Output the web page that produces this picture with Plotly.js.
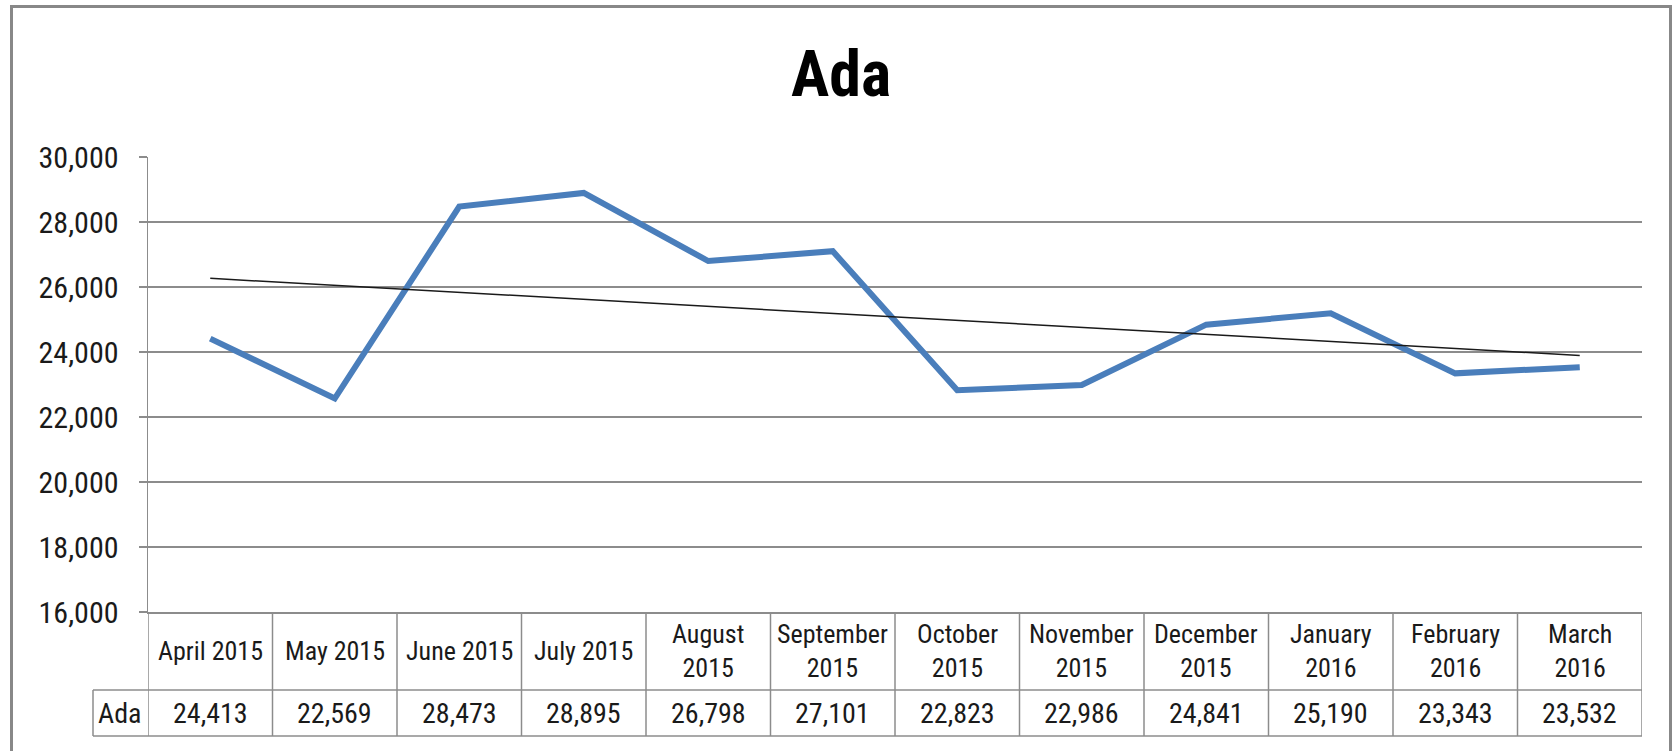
<!DOCTYPE html>
<html>
<head>
<meta charset="utf-8">
<script src="https://cdn.plot.ly/plotly-3.0.1.min.js"></script>
<style>
html, body { margin: 0; padding: 0; background: #ffffff; }
#chart { width: 1673px; height: 751px; }
</style>
</head>
<body>
<div id="chart"></div>
<script>
// ---- data ----
const seriesName = "Ada";
const categories = ["April 2015", "May 2015", "June 2015", "July 2015", "August 2015", "September 2015",
                    "October 2015", "November 2015", "December 2015", "January 2016", "February 2016", "March 2016"];
const categoryLabels = ["April 2015", "May 2015", "June 2015", "July 2015", "August<br>2015", "September<br>2015",
                        "October<br>2015", "November<br>2015", "December<br>2015", "January<br>2016", "February<br>2016", "March<br>2016"];
const values = [24413, 22569, 28473, 28895, 26798, 27101, 22823, 22986, 24841, 25190, 23343, 23532];
const trendEnds = [26267, 23894]; // linear trendline end values
const yTickVals = [16000, 18000, 20000, 22000, 24000, 26000, 28000, 30000];

// ---- styling ----
const FONT = '"Liberation Sans Narrow", "Arial Narrow", "Roboto Condensed", "Liberation Sans", Arial, sans-serif';
const GRID = '#8c8c8c';
const TXT = '#1a1a1a';

const plotL = 148, plotR = 1642, plotT = 157, plotB = 612;
const plotW = plotR - plotL, plotH = plotB - plotT;
const px = x => (x - plotL) / plotW;        // pixel x -> paper x
const py = y => (plotB - y) / plotH;        // pixel y -> paper y

const rowTop = py(612), rowMid = py(690), rowBot = py(736);

const traces = [
  {
    type: 'scatter', mode: 'lines', name: seriesName,
    x: categories, y: values,
    line: { color: '#4a7ebb', width: 6 },
    hoverinfo: 'x+y'
  },
  {
    type: 'scatter', mode: 'lines', name: 'Trend',
    x: [categories[0], categories[categories.length - 1]], y: trendEnds,
    line: { color: '#1a1a1a', width: 1.5 },
    hoverinfo: 'skip'
  }
];

const shapes = [];
// outer chart border
shapes.push({ type: 'rect', xref: 'paper', yref: 'paper',
  x0: px(11.5), x1: px(1670.5), y0: py(800), y1: py(6.5),
  line: { color: '#888888', width: 3 }, fillcolor: 'rgba(0,0,0,0)' });
// table horizontal lines
[rowMid, rowBot].forEach(y => shapes.push({ type: 'line', xref: 'paper', yref: 'paper',
  x0: px(93), x1: 1, y0: y, y1: y, line: { color: GRID, width: 1.5 } }));
// left edge of the series-name cell
shapes.push({ type: 'line', xref: 'paper', yref: 'paper',
  x0: px(93), x1: px(93), y0: rowMid, y1: rowBot, line: { color: GRID, width: 1.5 } });
// column separators
for (let i = 0; i <= categories.length; i++) {
  shapes.push({ type: 'line', xref: 'x', yref: 'paper',
    x0: i - 0.5, x1: i - 0.5, y0: rowTop, y1: rowBot, line: { color: GRID, width: 1.5 } });
}

const annotations = [];
categories.forEach((c, i) => {
  annotations.push({ xref: 'x', yref: 'paper', x: i, y: py(651), text: categoryLabels[i],
    showarrow: false, xanchor: 'center', yanchor: 'middle', align: 'center',
    font: { family: FONT, size: 26, color: TXT } });
  annotations.push({ xref: 'x', yref: 'paper', x: i, y: py(713), text: values[i].toLocaleString('en-US'),
    showarrow: false, xanchor: 'center', yanchor: 'middle',
    font: { family: FONT, size: 28, color: TXT } });
});
annotations.push({ xref: 'paper', yref: 'paper', x: px(96), y: py(713), text: seriesName,
  showarrow: false, xanchor: 'left', yanchor: 'middle',
  font: { family: FONT, size: 28, color: TXT } });

const layout = {
  width: 1673, height: 751,
  margin: { l: plotL, r: 1673 - plotR, t: plotT, b: 751 - plotB, pad: 0 },
  paper_bgcolor: '#ffffff', plot_bgcolor: '#ffffff',
  showlegend: false,
  title: { text: '<b>' + seriesName + '</b>', xref: 'container', yref: 'container',
    x: 841 / 1673, xanchor: 'center', y: 1 - 74 / 751, yanchor: 'middle',
    font: { family: FONT, size: 64, color: '#000000' } },
  xaxis: {
    type: 'category', categoryorder: 'array', categoryarray: categories,
    range: [-0.5, categories.length - 0.5],
    showticklabels: false, ticks: '', showgrid: false, zeroline: false,
    showline: true, linecolor: GRID, linewidth: 1.5, fixedrange: true
  },
  yaxis: {
    range: [16000, 30000], tickvals: yTickVals, tickformat: ',d',
    ticks: 'outside', ticklen: 8, tickwidth: 1.5, tickcolor: GRID,
    showgrid: true, gridcolor: GRID, gridwidth: 1.5, zeroline: false,
    showline: true, linecolor: GRID, linewidth: 1.5,
    ticklabelstandoff: 14,
    tickfont: { family: FONT, size: 30, color: TXT }, fixedrange: true
  },
  shapes: shapes,
  annotations: annotations
};

Plotly.newPlot('chart', traces, layout, { displayModeBar: false, staticPlot: true });
</script>
</body>
</html>
